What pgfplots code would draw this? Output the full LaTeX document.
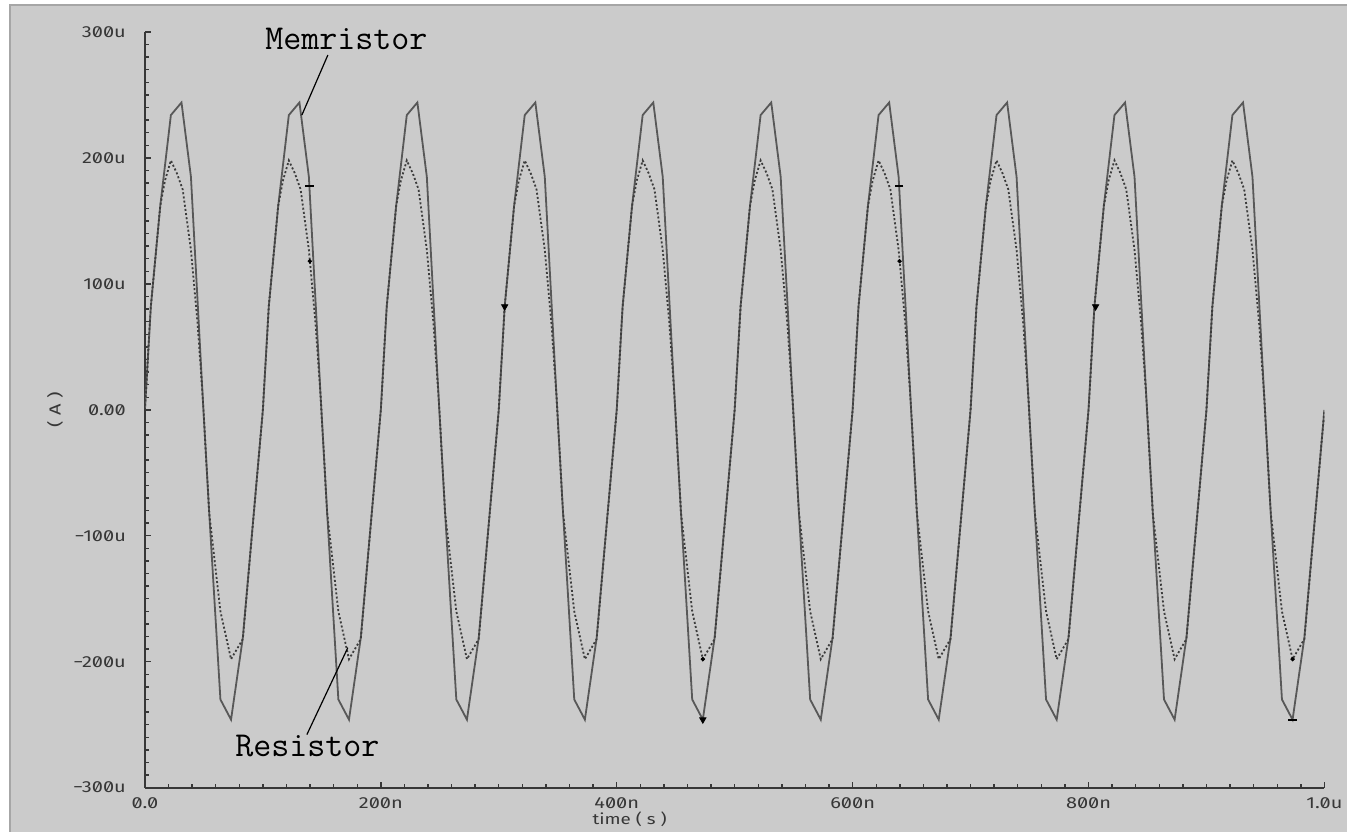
\documentclass[border=0pt]{standalone}
\usepackage{fontspec}
\usepackage{pgfplots}
\pgfplotsset{compat=1.18}
\newfontfamily\tickfont[Numbers=SlashedZero,FakeStretch=1.25]{Fira Sans}
\definecolor{panel}{RGB}{203,203,203}
\definecolor{wave}{RGB}{88,88,88}
\definecolor{dots}{RGB}{60,60,60}
\definecolor{axisgray}{RGB}{55,55,55}

\begin{document}
\begin{tikzpicture}[x=0.5pt,y=0.5pt]
% 1 unit = 1 pixel of the reference, origin at the axis corner
\fill[white] (-145,-44) rectangle (1203,788);
\fill[panel] (-135,-44) rectangle (1203,783);
\draw[gray!70, line width=0.6pt] (-135,-44) -- (-135,783) -- (1203,783);
\path[use as bounding box] (-145,-44) rectangle (1203,788);
\begin{axis}[
    at={(0,0)}, anchor=south west,
    scale only axis, width=590pt, height=378pt,
    xmin=0, xmax=1000, ymin=-300, ymax=300,
    clip mode=individual,
    axis lines*=left,
    axis line style={axisgray, line width=1pt},
    xtick={0,200,400,600,800,1000},
    xticklabels={0.0,200n,400n,600n,800n,1.0u},
    ytick={-300,-200,-100,0,100,200,300},
    yticklabels={−300u,−200u,−100u,0.00,100u,200u,300u},
    minor x tick num=9, minor y tick num=9,
    tick align=inside,
    major tick length=3pt, minor tick length=1.8pt,
    tick style={axisgray, line width=0.7pt},
    tick label style={font=\tickfont\fontsize{8}{10}\selectfont, text=axisgray},
    yticklabel style={xshift=-6pt},
    xticklabel style={yshift=-1.5pt},
    xlabel={time ( s )}, ylabel={( A )},
    xlabel style={at={(axis description cs:0.411,-0.0415)}, anchor=center,
        font=\tickfont\fontsize{7.5}{9}\selectfont, text=axisgray},
    ylabel style={at={(axis description cs:-0.0763,0.5)}, anchor=center,
        font=\tickfont\fontsize{8}{10}\selectfont, text=axisgray},
]
% Memristor current (solid)
\addplot[wave, line width=0.9pt] coordinates {
(0,0)(5,82)(13,162)(22,234)(31,244)(39,185)(49,10)(54.5,-82)(64,-230)(73,-246)(83,-181)
(100,0)(105,82)(113,162)(122,234)(131,244)(139,185)(149,10)(154.5,-82)(164,-230)(173,-246)(183,-181)
(200,0)(205,82)(213,162)(222,234)(231,244)(239,185)(249,10)(254.5,-82)(264,-230)(273,-246)(283,-181)
(300,0)(305,82)(313,162)(322,234)(331,244)(339,185)(349,10)(354.5,-82)(364,-230)(373,-246)(383,-181)
(400,0)(405,82)(413,162)(422,234)(431,244)(439,185)(449,10)(454.5,-82)(464,-230)(473,-246)(483,-181)
(500,0)(505,82)(513,162)(522,234)(531,244)(539,185)(549,10)(554.5,-82)(564,-230)(573,-246)(583,-181)
(600,0)(605,82)(613,162)(622,234)(631,244)(639,185)(649,10)(654.5,-82)(664,-230)(673,-246)(683,-181)
(700,0)(705,82)(713,162)(722,234)(731,244)(739,185)(749,10)(754.5,-82)(764,-230)(773,-246)(783,-181)
(800,0)(805,82)(813,162)(822,234)(831,244)(839,185)(849,10)(854.5,-82)(864,-230)(873,-246)(883,-181)
(900,0)(905,82)(913,162)(922,234)(931,244)(939,185)(949,10)(954.5,-82)(964,-230)(973,-246)(983,-181)
(1000,0)
};
% Resistor current (dotted)
\addplot[dots, line width=0.9pt, dash pattern=on 1pt off 1.1pt] coordinates {
(0,0)(5,82)(13,162)(17,182)(22,198)(27,188)(32,175)(39,127)(44.6,69)(49,10)(54.5,-82)(64,-160)(73,-198)(83,-182)
(100,0)(105,82)(113,162)(117,182)(122,198)(127,188)(132,175)(139,127)(144.6,69)(149,10)(154.5,-82)(164,-160)(173,-198)(183,-182)
(200,0)(205,82)(213,162)(217,182)(222,198)(227,188)(232,175)(239,127)(244.6,69)(249,10)(254.5,-82)(264,-160)(273,-198)(283,-182)
(300,0)(305,82)(313,162)(317,182)(322,198)(327,188)(332,175)(339,127)(344.6,69)(349,10)(354.5,-82)(364,-160)(373,-198)(383,-182)
(400,0)(405,82)(413,162)(417,182)(422,198)(427,188)(432,175)(439,127)(444.6,69)(449,10)(454.5,-82)(464,-160)(473,-198)(483,-182)
(500,0)(505,82)(513,162)(517,182)(522,198)(527,188)(532,175)(539,127)(544.6,69)(549,10)(554.5,-82)(564,-160)(573,-198)(583,-182)
(600,0)(605,82)(613,162)(617,182)(622,198)(627,188)(632,175)(639,127)(644.6,69)(649,10)(654.5,-82)(664,-160)(673,-198)(683,-182)
(700,0)(705,82)(713,162)(717,182)(722,198)(727,188)(732,175)(739,127)(744.6,69)(749,10)(754.5,-82)(764,-160)(773,-198)(783,-182)
(800,0)(805,82)(813,162)(817,182)(822,198)(827,188)(832,175)(839,127)(844.6,69)(849,10)(854.5,-82)(864,-160)(873,-198)(883,-182)
(900,0)(905,82)(913,162)(917,182)(922,198)(927,188)(932,175)(939,127)(944.6,69)(949,10)(954.5,-82)(964,-160)(973,-198)(983,-182)
(1000,0)
};
% cursor markers
\addplot[only marks, mark=-, mark size=2.2pt, black, mark options={line width=1pt}]
    coordinates {(139.4,178)(639.4,178)(973,-246)};
\addplot[only marks, mark=*, mark size=0.9pt, black]
    coordinates {(139.8,118)(639.8,118)(473,-198)(973,-198)};
\addplot[only marks, mark=triangle*, mark size=1.8pt, black, mark options={rotate=180}]
    coordinates {(305,82)(806,82)(473,-246)};
% labels
\draw[black, line width=0.6pt] (axis cs:155.1,281.7) -- (axis cs:133.1,234.1);
\draw[black, line width=0.6pt] (axis cs:137.3,-257.9) -- (axis cs:172.0,-188.9);
\node[anchor=base west, inner sep=0pt, font=\ttfamily\fontsize{17.5}{20}\selectfont]
    at (axis cs:101.7,285.7) {Memristor};
\node[anchor=base west, inner sep=0pt, font=\ttfamily\fontsize{17.5}{20}\selectfont]
    at (axis cs:76.3,-275.4) {Resistor};
\end{axis}
\end{tikzpicture}
\end{document}
